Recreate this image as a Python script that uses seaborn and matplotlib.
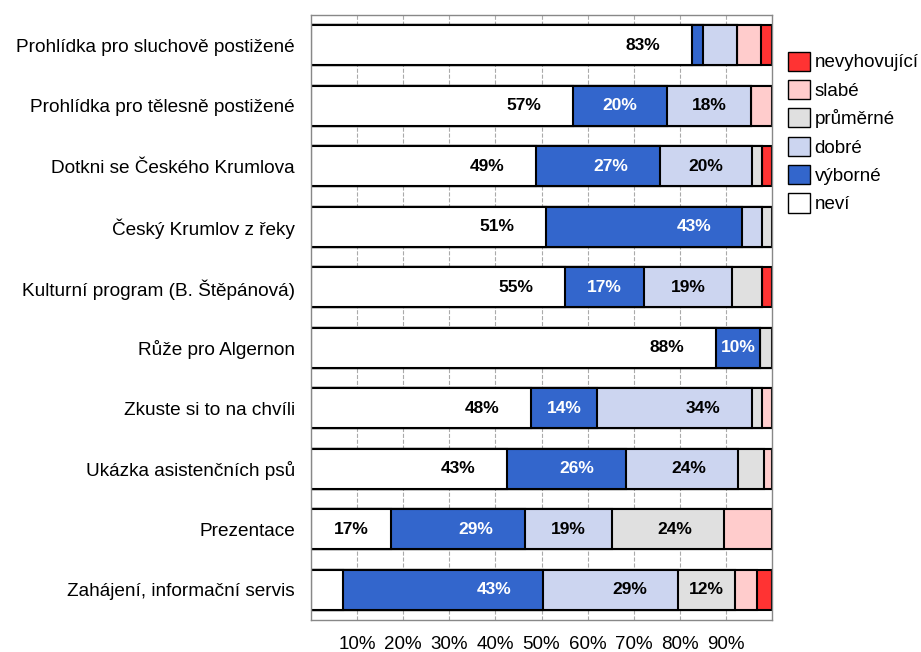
"""Hodnocení programu - skládaný pruhový graf (seaborn)."""
import matplotlib
matplotlib.use("Agg")
import matplotlib.pyplot as plt
import pandas as pd
import seaborn as sns
from matplotlib.patches import Patch

programy = [
    "Prohlídka pro sluchově postižené",
    "Prohlídka pro tělesně postižené",
    "Dotkni se Českého Krumlova",
    "Český Krumlov z řeky",
    "Kulturní program (B. Štěpánová)",
    "Růže pro Algernon",
    "Zkuste si to na chvíli",
    "Ukázka asistenčních psů",
    "Prezentace",
    "Zahájení, informační servis",
]

# podíly v %
nevi = [82.6, 56.8, 48.9, 50.9, 55.1, 87.8, 47.8, 42.6, 17.3, 7.0]
vyborne = [2.4, 20.4, 26.7, 42.7, 17.1, 9.7, 14.2, 25.7, 29.1, 43.3]
dobre = [7.3, 18.2, 20.0, 4.2, 19.1, 0.0, 33.7, 24.3, 19.0, 29.4]
prumerne = [0.0, 0.0, 2.2, 2.2, 6.5, 2.5, 2.1, 5.6, 24.1, 12.2]
slabe = [5.3, 4.6, 0.0, 0.0, 0.0, 0.0, 2.2, 1.8, 10.5, 4.8]
nevyhovujici = [2.4, 0.0, 2.2, 0.0, 2.2, 0.0, 0.0, 0.0, 0.0, 3.3]

kategorie = ["neví", "výborné", "dobré", "průměrné", "slabé", "nevyhovující"]
barvy = ["#FFFFFF", "#3366CC", "#CCD5F0", "#E0E0E0", "#FFCCCC", "#FF3333"]
popisek = {"neví": True, "výborné": True, "dobré": True, "průměrné": True,
           "slabé": False, "nevyhovující": False}

df = pd.DataFrame({"program": programy, "neví": nevi, "výborné": vyborne,
                   "dobré": dobre, "průměrné": prumerne, "slabé": slabe,
                   "nevyhovující": nevyhovujici})
cum = df[kategorie].cumsum(axis=1)

sns.set_style("white")
plt.rcParams["font.family"] = ["Liberation Sans", "DejaVu Sans"]
plt.rcParams["text.color"] = "black"
plt.rcParams["xtick.color"] = "black"
plt.rcParams["ytick.color"] = "black"

fig = plt.figure(figsize=(9.21, 6.52), dpi=100)
ax = fig.add_axes([311 / 921, 1 - 620 / 652, 461 / 921, 605 / 652])

# vrstvené pruhy: od nejdelšího kumulativního součtu po nejkratší
for kat, barva in reversed(list(zip(kategorie, barvy))):
    sns.barplot(x=cum[kat], y=df["program"], color=barva, orient="h",
                width=0.66, edgecolor="black", linewidth=1.5, ax=ax,
                saturation=1, zorder=2)

# popisky hodnot
for i, row in df.iterrows():
    start = 0.0
    for kat in kategorie:
        val = row[kat]
        end = start + val
        if popisek[kat] and val >= 9.5:
            x = max((start + end) / 2, end - 10.6)
            ax.text(x, i, f"{round(val)}%", ha="center", va="center",
                    fontsize=12.5, fontweight="bold",
                    color="white" if kat == "výborné" else "black", zorder=3)
        start = end

ax.set_xlim(0, 100)
ax.set_ylim(len(programy) - 0.5, -0.5)
ax.set_xticks(range(10, 100, 10))
ax.set_xticklabels([f"{t}%" for t in range(10, 100, 10)])
ax.set_xlabel("")
ax.set_ylabel("")
ax.grid(True, axis="x", linestyle="--", color="#AAAAAA", linewidth=0.8, zorder=0)
ax.set_axisbelow(True)
ax.tick_params(axis="y", length=6.5, width=2.2, color="black", pad=5,
               labelsize=13.7, labelcolor="black")
ax.tick_params(axis="x", length=7.5, width=2.2, color="black", pad=4,
               labelsize=13.5, labelcolor="black")
for s in ax.spines.values():
    s.set_color("#888888")
    s.set_linewidth(1)

handles = [Patch(facecolor=b, edgecolor="black", label=k)
           for k, b in reversed(list(zip(kategorie, barvy)))]
fig.legend(handles=handles, loc="upper left", bbox_to_anchor=(780 / 921, 1 - 44 / 652),
           frameon=False, fontsize=13.5, handlelength=1.2, handleheight=1.2,
           handletextpad=0.25, labelspacing=0.45, borderaxespad=0)

fig.savefig("out.png", dpi=100)
